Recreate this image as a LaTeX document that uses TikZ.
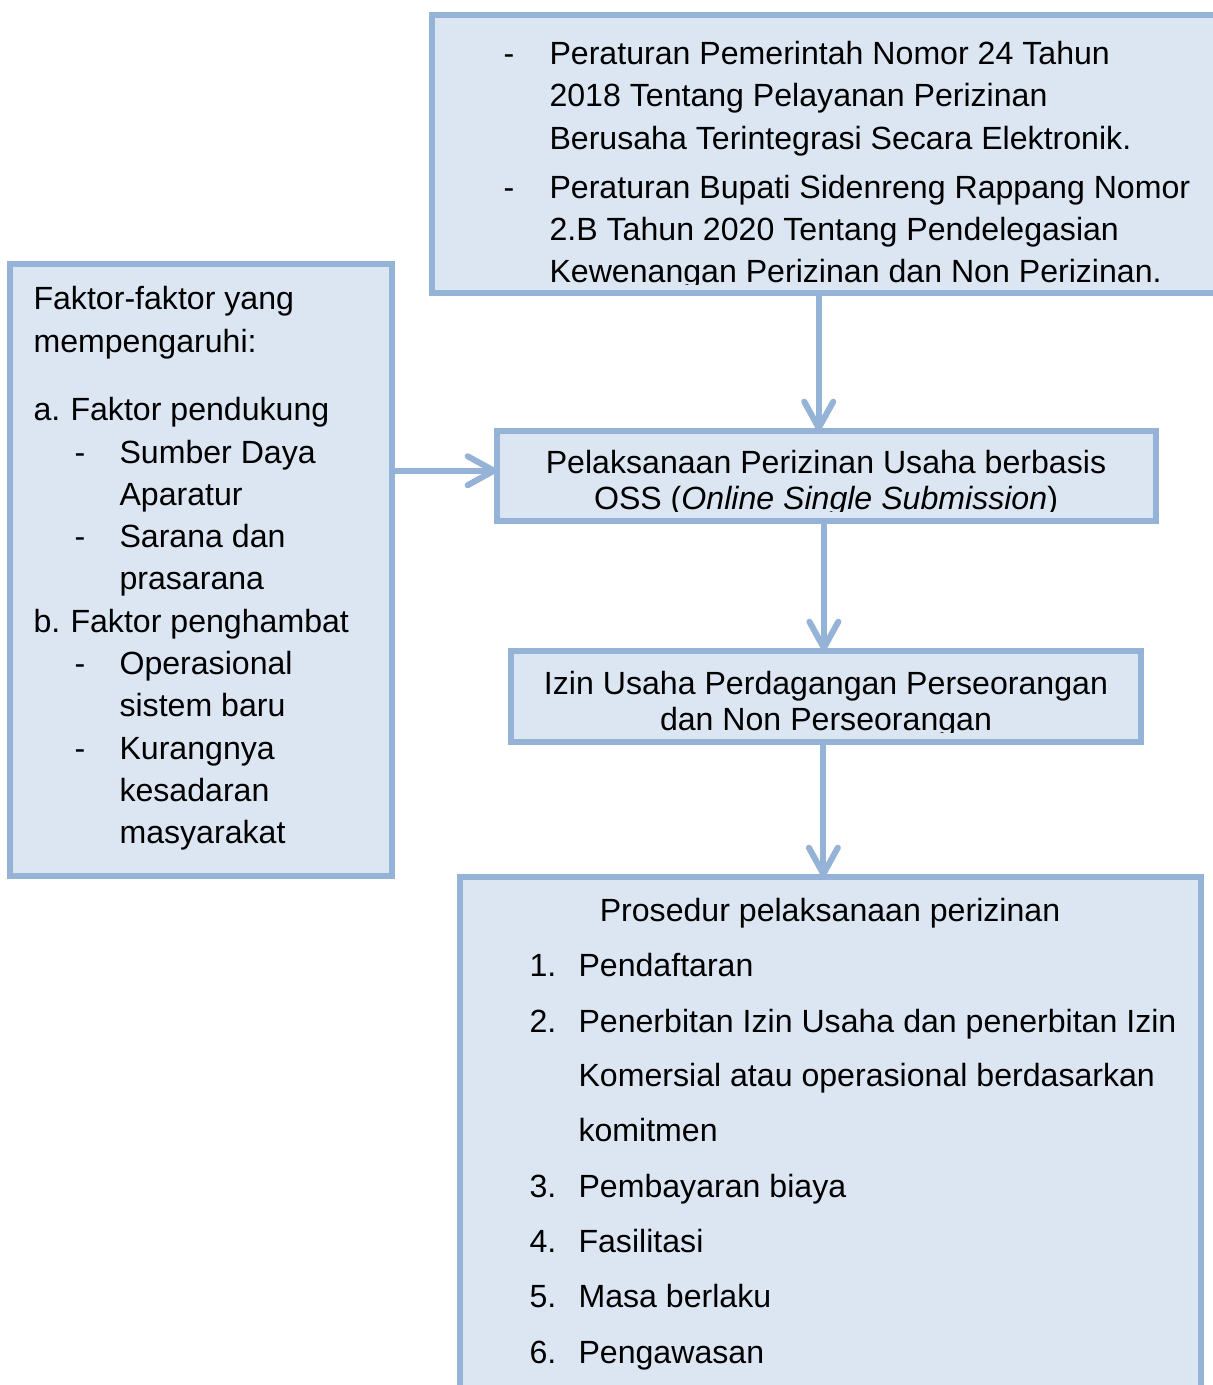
\documentclass[tikz,border=0pt]{standalone}
\usepackage{fontspec}
\setmainfont{Liberation Sans}
\usetikzlibrary{arrows.meta,positioning,fit}
\definecolor{boxblue}{HTML}{95B3D7}
\definecolor{boxfill}{HTML}{DCE6F2}

\begin{document}
\begin{tikzpicture}[x=0.38pt,y=-0.38pt,
    panel/.style={draw=boxblue, fill=boxfill, line width=2.3pt, inner sep=0pt, outer sep=0pt},
    txt/.style={inner sep=0pt, anchor=base west, font=\fontsize{12.2}{14}\selectfont},
    ctxt/.style={txt, anchor=base},
    flow/.style={draw=boxblue, line width=2.3pt, -{Straight Barb[length=10pt,width=11pt,round]}}]
  \useasboundingbox (0,0) rectangle (1212,1385);

  % boxes
  \node[panel, fit={(432,15) (1216,293)}] (regs) {};
  \node[panel, fit={(10,264) (392,876)}] (factors) {};
  \node[panel, fit={(497,431) (1156,521)}] (oss) {};
  \node[panel, fit={(511,651) (1141,742)}] (izin) {};
  \node[panel, fit={(460,877) (1201,1400)}] (prosedur) {};

  % regulations
  \begin{scope}
    \clip (432,15) rectangle (1216,284);
    \foreach \yy in {64,198}
      \node[txt] (dash-\yy) at (503,\yy) {-};
    \foreach \yy/\tx [count=\i] in {64/Peraturan Pemerintah Nomor 24 Tahun,
        106/2018 Tentang Pelayanan Perizinan,
        149/Berusaha Terintegrasi Secara Elektronik.,
        198/Peraturan Bupati Sidenreng Rappang Nomor,
        240/2.B Tahun 2020 Tentang Pendelegasian,
        282/Kewenangan Perizinan dan Non Perizinan.}
      \node[txt] (reg-\i) at (549,\yy) {\tx};
  \end{scope}

  % factors
  \foreach \yy/\xx/\tx [count=\i] in {309/33/Faktor-faktor yang, 352/33/mempengaruhi:,
      420/70/Faktor pendukung, 463/119/Sumber Daya, 505/119/Aparatur,
      547/119/Sarana dan, 589/119/prasarana, 632/70/Faktor penghambat,
      674/119/Operasional, 716/119/sistem baru, 759/119/Kurangnya,
      801/119/kesadaran, 843/119/masyarakat}
    \node[txt] (fak-\i) at (\xx,\yy) {\tx};
  \foreach \yy/\xx/\mk [count=\i] in {420/33/a., 463/74/-, 547/74/-,
      632/33/b., 674/74/-, 759/74/-}
    \node[txt] (mark-\i) at (\xx,\yy) {\mk};

  % oss and izin
  \begin{scope}
    \clip (497,431) rectangle (1156,511);
    \node[ctxt] (oss-1) at (826,473) {Pelaksanaan Perizinan Usaha berbasis};
    \node[ctxt] (oss-2) at (826,509) {OSS (\textit{Online Single Submission})};
  \end{scope}
  \begin{scope}
    \clip (511,651) rectangle (1141,732);
    \node[ctxt] (izin-1) at (826,694) {Izin Usaha Perdagangan Perseorangan};
    \node[ctxt] (izin-2) at (826,730) {dan Non Perseorangan};
  \end{scope}

  % procedure
  \node[ctxt] (pro-title) at (830,921) {Prosedur pelaksanaan perizinan};
  \foreach \yy/\mk in {976/1., 1032/2., 1197/3., 1252/4., 1307/5., 1363/6.}
    \node[txt] (num-\mk) at (529,\yy) {\mk};
  \foreach \yy/\tx [count=\i] in {976/Pendaftaran,
      1032/Penerbitan Izin Usaha dan penerbitan Izin,
      1086/Komersial atau operasional berdasarkan,
      1141/komitmen, 1197/Pembayaran biaya, 1252/Fasilitasi,
      1307/Masa berlaku, 1363/Pengawasan}
    \node[txt] (pro-\i) at (578,\yy) {\tx};

  % connectors
  \draw[flow] ([xshift=-2pt]regs.south) -- ([xshift=-2pt]regs.south |- oss.north);
  \draw[flow] ([yshift=2pt]oss.west -| factors.east) -- ([yshift=2pt]oss.west);
  \draw[flow] ([xshift=-1pt]oss.south) -- ([xshift=-1pt]oss.south |- izin.north);
  \draw[flow] ([xshift=-1pt]izin.south) -- ([xshift=-1pt]izin.south |- prosedur.north);
\end{tikzpicture}
\end{document}
